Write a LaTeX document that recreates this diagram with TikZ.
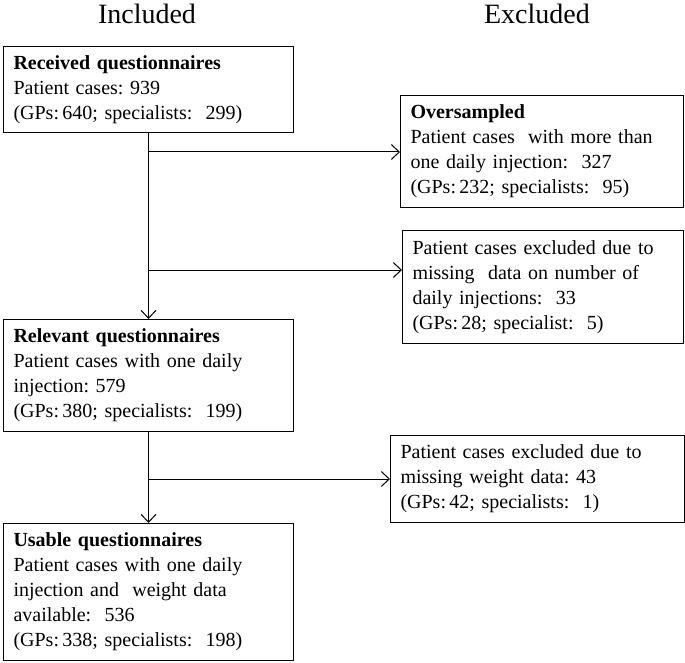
\documentclass[tikz,border=0pt]{standalone}
\usepackage{fontspec}
\setmainfont{Liberation Serif}
\usetikzlibrary{arrows.meta}
\begin{document}
\frenchspacing
\begin{tikzpicture}[x=1pt,y=-1pt,
  box/.style={draw=black, line width=1pt, anchor=north west, align=left,
    inner xsep=10pt, inner ysep=0pt, font=\fontsize{20}{25}\selectfont},
  ttl/.style={font=\fontsize{28}{32}\selectfont},
  arr/.style={line width=1pt, -{Straight Barb[length=8pt,width=15pt,line width=1pt]}},
  ln/.style={line width=1pt}]
\useasboundingbox (0,0) rectangle (685,663);
\node[ttl] (tin) at (147,14) {Included};
\node[ttl] (tex) at (537,14) {Excluded};
\node[box, minimum width=290pt, minimum height=86pt, text width=270pt] (rec) at (3,46)
  {\textbf{Received questionnaires}\\Patient cases: 939\\(GPs:\,640; specialists:\ \ 299)};
\node[box, minimum width=283pt, minimum height=112pt, text width=263pt] (ovr) at (400,95)
  {\textbf{Oversampled}\\Patient cases\ \ with more than\\one daily injection:\ \ 327\\(GPs:\,232; specialists:\ \ 95)};
\node[box, minimum width=281pt, minimum height=113pt, text width=261pt] (mis) at (402,230)
  {Patient cases excluded due to\\missing\ \ data on number of\\daily injections:\ \ 33\\(GPs:\,28; specialist:\ \ 5)};
\node[box, minimum width=290pt, minimum height=112pt, text width=270pt] (rel) at (3,319)
  {\textbf{Relevant questionnaires}\\Patient cases with one daily\\injection: 579\\(GPs:\,380; specialists:\ \ 199)};
\node[box, minimum width=294pt, minimum height=87pt, text width=274pt] (wgt) at (390,435)
  {Patient cases excluded due to\\missing weight data: 43\\(GPs:\,42; specialists:\ \ 1)};
\node[box, minimum width=290pt, minimum height=137pt, text width=270pt] (use) at (3,523)
  {\textbf{Usable questionnaires}\\Patient cases with one daily\\injection and\ \ weight data\\available:\ \ 536\\(GPs:\,338; specialists:\ \ 198)};
\coordinate (b1) at (148,152);
\coordinate (b2) at (148,270);
\coordinate (b3) at (148,479);
\draw[arr] (rec.south) -- (rel.north);
\draw[arr] (b1) -- (b1 -| ovr.west);
\draw[arr] (b2) -- (b2 -| mis.west);
\draw[arr] (rel.south) -- (use.north);
\draw[arr] (b3) -- (b3 -| wgt.west);
\end{tikzpicture}
\end{document}
